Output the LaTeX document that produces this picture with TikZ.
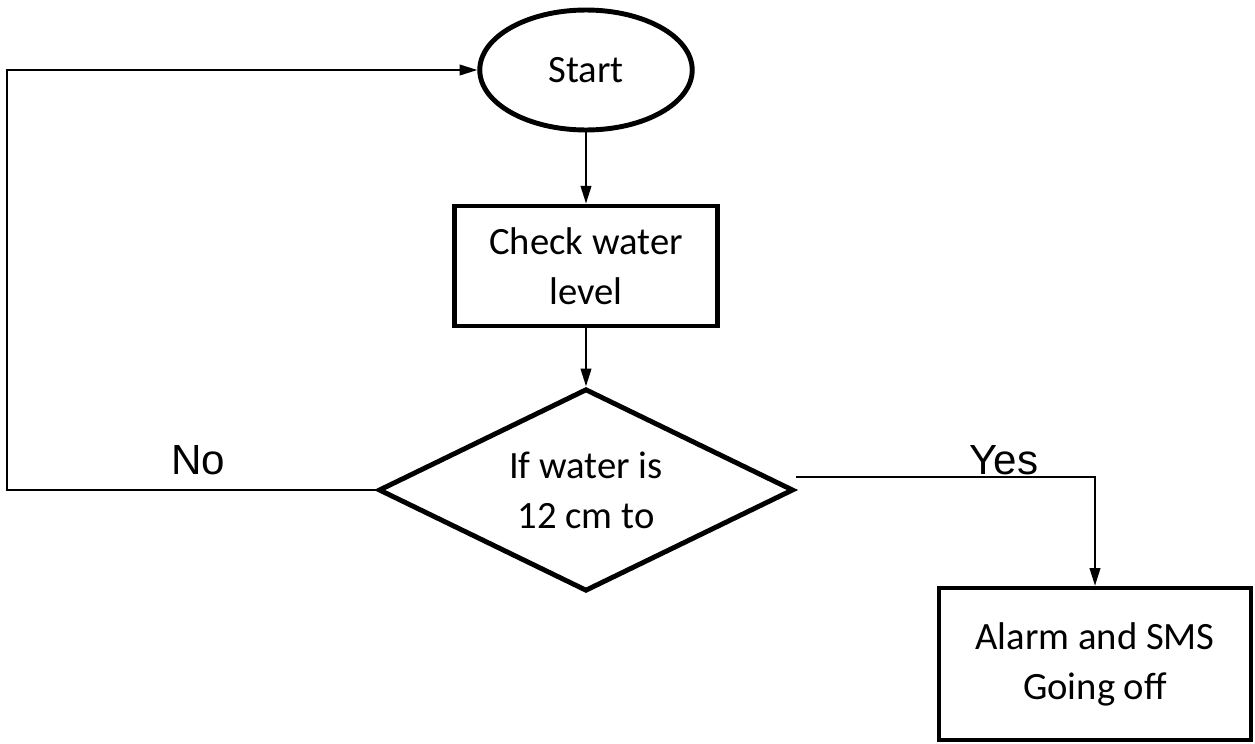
\documentclass[tikz,border=0pt]{standalone}
\usepackage{fontspec}
\setmainfont{Carlito}
\newfontfamily\arialFont{Liberation Sans}
\usetikzlibrary{shapes.geometric, arrows.meta}
\newcommand{\flowBlock}[5][]{
	\path (#2,#3) node[draw, align=center, font=\fontsize{22}{28.5}\selectfont, #1](#4){#5};
}
\newcommand{\flowArrow}[3][]{
	\draw[-{Triangle[length=10pt, width=6pt]}, line width=1.1pt, #1] (#2) -- (#3);
}
\newcommand{\flowElbow}[4][]{
	\draw[-{Triangle[length=10pt, width=6pt]}, line width=1.1pt, #1] (#2) #3 (#4);
}
\newcommand{\flowLabel}[3]{
	\path (#1,#2) node[font=\arialFont\fontsize{24}{28}\selectfont](#3){#3};
}

\begin{document}
\begin{tikzpicture}[x=0.02cm, y=-0.02cm]
	\useasboundingbox (0,0) rectangle (1255,744);

	\flowBlock[ellipse, line width=2.8pt, minimum width=4.25cm, minimum height=2.4cm]{586}{70}{start}{Start};
	\flowBlock[rectangle, line width=2.8pt, minimum width=5.25cm, minimum height=2.4cm]{586}{266}{check}{Check water\\level};
	\flowBlock[diamond, line width=2.8pt, inner sep=0pt, aspect=2.04, minimum width=8.3cm, minimum height=4.05cm]{586}{490}{decide}{If water is\\12 cm to};
	\flowBlock[rectangle, line width=2.3pt, minimum width=6.25cm, minimum height=3.05cm]{1095}{664}{alarm}{Alarm and SMS\\Going off};

	\coordinate (loop) at (7,490);
	\coordinate (yes) at (1095,477);

	\flowArrow{start}{check};
	\flowArrow{check}{decide};
	\flowElbow{decide.west}{-- (loop) |-}{start.west};
	\flowElbow{decide.east |- yes}{-|}{alarm.north};

	\flowLabel{198}{460}{No};
	\flowLabel{1004}{460}{Yes};
\end{tikzpicture}
\end{document}
